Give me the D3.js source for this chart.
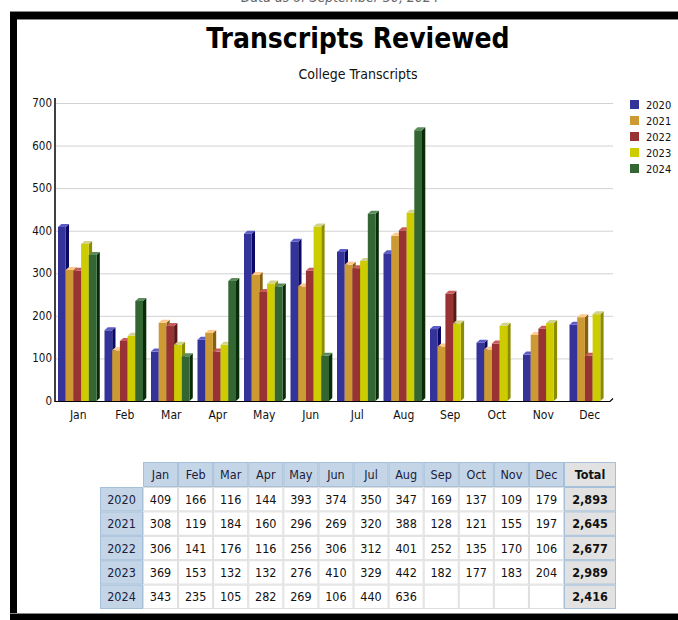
<!DOCTYPE html>
<html>
<head>
<meta charset="utf-8">
<script src="https://cdn.jsdelivr.net/npm/d3@7/dist/d3.min.js"></script>
<style>
  body { margin: 0; background: #fff; }
  svg { display: block; }
</style>
</head>
<body>
<svg id="chart"></svg>
<script>
var months = ['Jan', 'Feb', 'Mar', 'Apr', 'May', 'Jun', 'Jul', 'Aug', 'Sep', 'Oct', 'Nov', 'Dec'];
var years = ['2020', '2021', '2022', '2023', '2024'];
var v2020 = [409, 166, 116, 144, 393, 374, 350, 347, 169, 137, 109, 179];
var v2021 = [308, 119, 184, 160, 296, 269, 320, 388, 128, 121, 155, 197];
var v2022 = [306, 141, 176, 116, 256, 306, 312, 401, 252, 135, 170, 106];
var v2023 = [369, 153, 132, 132, 276, 410, 329, 442, 182, 177, 183, 204];
var v2024 = [343, 235, 105, 282, 269, 106, 440, 636, null, null, null, null];
var yTicks = [0, 100, 200, 300, 400, 500, 600, 700];

var series = [v2020, v2021, v2022, v2023, v2024];

// colours: front face, dark side, light top
var front = ['#333399', '#cc9933', '#993333', '#cccc00', '#336633'];
var side = ['#0a0a66', '#86600f', '#5a1818', '#8c8c00', '#082c08'];
var topc = ['#5c5cc8', '#ffc88c', '#c85c5c', '#d2d28e', '#5c8c5c'];

var width = 678, height = 620;
var svg = d3.select('#chart').attr('width', width).attr('height', height);

var cond = '"DejaVu Sans Condensed", "DejaVu Sans", sans-serif';

// partially cut-off caption on top
svg.append('text')
  .attr('x', 340).attr('y', 2)
  .attr('text-anchor', 'middle')
  .attr('font-family', cond)
  .attr('font-style', 'italic')
  .attr('font-size', 14)
  .attr('fill', '#666')
  .text('Data as of September 30, 2024');

// black frame (cut at the right edge)
svg.append('rect').attr('x', 10).attr('y', 11).attr('width', 668).attr('height', 9).attr('fill', '#888');
svg.append('rect').attr('x', 10).attr('y', 12).attr('width', 668).attr('height', 7).attr('fill', '#000');
svg.append('rect').attr('x', 10).attr('y', 12).attr('width', 7).attr('height', 608).attr('fill', '#000');
svg.append('rect').attr('x', 10).attr('y', 613).attr('width', 668).attr('height', 1).attr('fill', '#888');
svg.append('rect').attr('x', 10).attr('y', 614).attr('width', 668).attr('height', 6).attr('fill', '#000');

// titles
svg.append('text')
  .attr('x', 358).attr('y', 48)
  .attr('text-anchor', 'middle')
  .attr('font-family', cond)
  .attr('font-weight', 'bold')
  .attr('font-size', 28)
  .attr('fill', '#000')
  .text('Transcripts Reviewed');

svg.append('text')
  .attr('x', 358).attr('y', 79)
  .attr('text-anchor', 'middle')
  .attr('font-family', cond)
  .attr('font-size', 14)
  .attr('fill', '#111')
  .text('College Transcripts');

// scales
var left = 55, right = 613, y0 = 401;
var y = d3.scaleLinear().domain([0, 700]).range([y0, 103]);
var x = d3.scaleBand().domain(months).range([left, right]);
var slot = 7.7, dx = 3.3, dy = 3;
var xi = d3.scaleBand().domain(years).range([3, 3 + slot * years.length]);

// gridlines
svg.append('g').selectAll('line')
  .data(yTicks.slice(1))
  .join('line')
  .attr('x1', left + 1).attr('x2', right)
  .attr('y1', function(d) { return y(d) + 0.5; })
  .attr('y2', function(d) { return y(d) + 0.5; })
  .attr('stroke', '#d2d2d2');

// y labels
svg.append('g').selectAll('text')
  .data(yTicks)
  .join('text')
  .attr('x', 52)
  .attr('y', function(d) { return y(d) + 4; })
  .attr('text-anchor', 'end')
  .attr('font-family', cond)
  .attr('font-size', 11.5)
  .attr('fill', '#111')
  .text(function(d) { return d; });

// bars
var barG = svg.append('g');
months.forEach(function(m, mi) {
  years.forEach(function(yr, si) {
    var v = series[si][mi];
    if (v == null) return;
    var x0 = x(m) + xi(yr), yt = y(v);
    barG.append('polygon')
      .attr('points', [[x0 + slot, yt], [x0 + slot + dx, yt - dy], [x0 + slot + dx, y0 - dy], [x0 + slot, y0]].join(' '))
      .attr('fill', side[si]);
    barG.append('rect')
      .attr('x', x0).attr('y', yt)
      .attr('width', slot).attr('height', y0 - yt)
      .attr('fill', front[si]);
    barG.append('polygon')
      .attr('points', [[x0, yt], [x0 + dx, yt - dy], [x0 + slot + dx, yt - dy], [x0 + slot, yt]].join(' '))
      .attr('fill', topc[si]);
  });
});

// axes lines
svg.append('line').attr('x1', left).attr('x2', left).attr('y1', 98).attr('y2', y0 + 1)
  .attr('stroke', '#000').attr('stroke-width', 1.5);
svg.append('path')
  .attr('d', 'M' + left + ',' + (y0 + 0.5) + 'H' + (right - 3) + 'L' + right + ',' + (y0 - 2.5))
  .attr('fill', 'none').attr('stroke', '#000').attr('stroke-width', 1.2);

// month labels
svg.append('g').selectAll('text')
  .data(months)
  .join('text')
  .attr('x', function(d) { return x(d) + x.bandwidth() / 2; })
  .attr('y', 419)
  .attr('text-anchor', 'middle')
  .attr('font-family', cond)
  .attr('font-size', 12)
  .attr('fill', '#111')
  .text(function(d) { return d; });

// legend
var legend = svg.append('g').selectAll('g')
  .data(years)
  .join('g')
  .attr('transform', function(d, i) { return 'translate(630,' + (100 + i * 16) + ')'; });
legend.append('rect').attr('width', 9).attr('height', 9)
  .attr('fill', function(d, i) { return front[i]; });
legend.append('text').attr('x', 16).attr('y', 9)
  .attr('font-family', cond).attr('font-size', 11).attr('fill', '#111')
  .text(function(d) { return d; });

// data table
var tTop = 462, headH = 25, rowH = 24.4;
var tx = d3.scaleBand().domain(months).range([143, 564]);
var yearX = 100, totalX = 564, totalW = 52;
var rows = d3.scaleBand().domain(years).range([tTop + headH, tTop + headH + rowH * years.length]);
var blueBg = '#c3d5e6', blueLine = '#a6c0da', greyBg = '#e2e2e2', cellLine = '#dedede';
var fmt = d3.format(',');
var table = svg.append('g');

function cell(x0, y0c, w, h, fill, stroke) {
  table.append('rect').attr('x', x0 + 0.5).attr('y', y0c + 0.5)
    .attr('width', w - 1).attr('height', h - 1)
    .attr('fill', fill).attr('stroke', stroke);
}
function label(x0, y0c, w, h, txt, bold, color) {
  table.append('text')
    .attr('x', x0 + w / 2).attr('y', y0c + h / 2 + 4.5)
    .attr('text-anchor', 'middle')
    .attr('font-family', cond)
    .attr('font-size', 12.5)
    .attr('font-weight', bold ? 'bold' : 'normal')
    .attr('fill', color)
    .text(txt);
}

// header row
months.forEach(function(m) {
  cell(tx(m), tTop, tx.bandwidth(), headH, blueBg, blueLine);
  label(tx(m), tTop, tx.bandwidth(), headH, m, false, '#1c1c3c');
});
cell(totalX, tTop, totalW, headH, greyBg, blueLine);
label(totalX, tTop, totalW, headH, 'Total', true, '#111');

// body rows
years.forEach(function(yr, si) {
  var ry = rows(yr);
  cell(yearX, ry, 143 - yearX, rowH, blueBg, blueLine);
  label(yearX, ry, 143 - yearX, rowH, yr, false, '#1c1c3c');
  months.forEach(function(m, mi) {
    var v = series[si][mi];
    cell(tx(m), ry, tx.bandwidth(), rowH, '#fff', cellLine);
    if (v != null) label(tx(m), ry, tx.bandwidth(), rowH, v, false, '#111');
  });
  cell(totalX, ry, totalW, rowH, greyBg, blueLine);
  label(totalX, ry, totalW, rowH, fmt(d3.sum(series[si])), true, '#111');
});
</script>
</body>
</html>
